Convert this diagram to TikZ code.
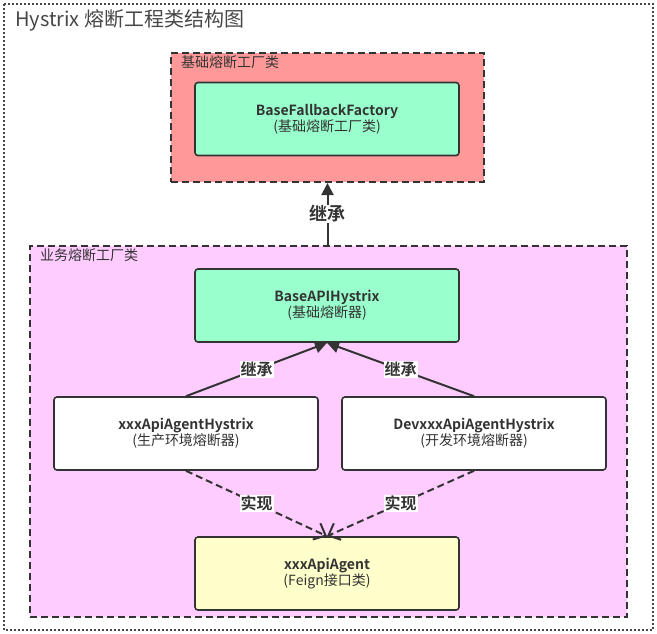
\documentclass[tikz,border=0pt]{standalone}
\usepackage{fontspec}
\setmainfont{Noto Sans CJK SC}[BoldFont={Noto Sans CJK SC Bold}]
\usepackage{tikz}
\usetikzlibrary{arrows.meta,positioning}
\definecolor{ink}{HTML}{333333}
\definecolor{mint}{HTML}{99FFCC}
\definecolor{rose}{HTML}{FF9999}
\definecolor{lilac}{HTML}{FFCCFF}
\definecolor{cream}{HTML}{FFFFCC}

\begin{document}
\begin{tikzpicture}[x=1pt,y=-1pt,node distance=2cm,on grid,
	group/.style={draw=ink,line width=2pt,dash pattern=on 7pt off 4pt},
	grouplabel/.style={anchor=north west,inner sep=0pt,font=\fontsize{14}{16}\selectfont,text=ink},
	cls/.style={draw=ink,line width=1.6pt,rounded corners=3pt,minimum width=264pt,minimum height=73pt,
		align=center,text=ink,font=\fontsize{14}{16}\selectfont},
	lbl/.style={fill=white,inner sep=1pt,text=ink,font=\bfseries\fontsize{16}{18}\selectfont},
	inherit/.style={draw=ink,line width=2pt,-{Triangle[length=12pt,width=12pt]}},
	realize/.style={draw=ink,line width=2pt,dash pattern=on 7pt off 4pt,-{Straight Barb[length=10pt,width=18pt]}}]
	\useasboundingbox (0,0) rectangle (657,633);
	\draw[ink!90,line width=1.8pt,dash pattern=on 1.8pt off 2.2pt] (4,4) rectangle (653,630);
	\node[anchor=west,inner sep=0pt,text=ink!90,font=\fontsize{20}{22}\selectfont] (title) at (15,20) {Hystrix 熔断工程类结构图};

	% groups
	\node[group,fill=rose,minimum width=313pt,minimum height=129pt] (basegrp) at (327.5,117.5) {};
	\node[grouplabel] at (181,55) {基础熔断工厂类};
	\node[group,fill=lilac,minimum width=597pt,minimum height=371pt] (bizgrp) at (328.5,431.5) {};
	\node[grouplabel] at (40,248) {业务熔断工厂类};

	% classes
	\node[cls,fill=mint] (fallback) at (327,119) {\textbf{BaseFallbackFactory}\\(基础熔断工厂类)};
	\node[cls,fill=mint] (baseapi) [below=186.5pt of fallback] {\textbf{BaseAPIHystrix}\\(基础熔断器)};
	\node[cls,fill=white] (prod) [below left=128pt and 141pt of baseapi] {\textbf{xxxApiAgentHystrix}\\(生产环境熔断器)};
	\node[cls,fill=white] (dev) [below right=128pt and 147pt of baseapi] {\textbf{DevxxxApiAgentHystrix}\\(开发环境熔断器)};
	\node[cls,fill=cream] (agent) [below=268pt of baseapi] {\textbf{xxxApiAgent}\\(Feign接口类)};

	% connectors
	\draw[inherit] (bizgrp.north -| basegrp.south) -- node[lbl,font=\bfseries\fontsize{18}{20}\selectfont] {继承} (basegrp.south);
	\draw[inherit] (prod.north) -- node[lbl] {继承} (baseapi.south);
	\draw[inherit] (dev.north) -- node[lbl] {继承} (baseapi.south);
	\draw[realize] (prod.south) -- node[lbl] {实现} (agent.north);
	\draw[realize] (dev.south) -- node[lbl] {实现} (agent.north);
\end{tikzpicture}
\end{document}
